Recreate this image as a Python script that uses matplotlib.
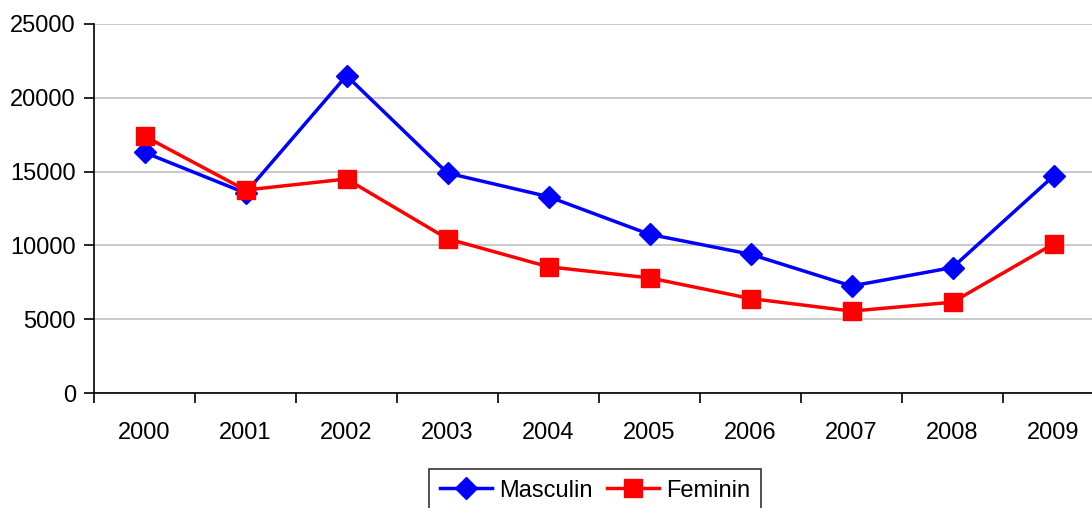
import matplotlib.pyplot as plt
import numpy as np

plt.rcParams['font.family'] = ['Liberation Sans', 'DejaVu Sans']

years = ['2000', '2001', '2002', '2003', '2004', '2005', '2006', '2007', '2008', '2009']
masculin = [16300, 13550, 21500, 14900, 13300, 10750, 9400, 7250, 8500, 14700]
feminin = [17400, 13750, 14500, 10450, 8550, 7800, 6400, 5550, 6150, 10100]

fig = plt.figure(figsize=(10.92, 5.08), dpi=100)
ax = fig.add_axes([94/1092, 115/508, 1010/1092, 369/508])

x = np.arange(len(years))
ax.plot(x, masculin, color='#0000ff', lw=2.5, marker='D', ms=11.5, label='Masculin')
ax.plot(x, feminin, color='#ff0000', lw=2.5, marker='s', ms=12.5, label='Feminin')

ax.set_xlim(-0.5, len(years) - 0.5)
ax.set_ylim(0, 25000)
ax.set_yticks(np.arange(0, 25001, 5000))
ax.yaxis.grid(True, color='#c0c0c0', lw=1.2)
ax.set_axisbelow(True)

# ticks between categories, labels centred
ax.set_xticks(np.arange(-0.5, len(years), 1))
ax.set_xticklabels([])
ax.set_xticks(x, minor=True)
ax.set_xticklabels(years, minor=True)
ax.tick_params(axis='x', which='minor', length=0, pad=21, labelsize=17)
ax.tick_params(axis='x', which='major', length=7, width=1.2, direction='out')
ax.tick_params(axis='y', length=7, width=1.2, direction='out', pad=6, labelsize=17)

for s in ['top', 'right']:
    ax.spines[s].set_visible(False)
for s in ['left', 'bottom']:
    ax.spines[s].set_linewidth(1.2)
    ax.spines[s].set_color('black')

leg = fig.legend(loc='upper center', bbox_to_anchor=(595/1092, 1 - 469/508), ncol=2,
                 frameon=True, fancybox=False, fontsize=17, handlelength=2.2,
                 columnspacing=0.6, handletextpad=0.3, borderpad=0.45,
                 borderaxespad=0)
leg.get_frame().set_edgecolor('black')
leg.get_frame().set_linewidth(1.2)

plt.savefig('out.png', dpi=100)
